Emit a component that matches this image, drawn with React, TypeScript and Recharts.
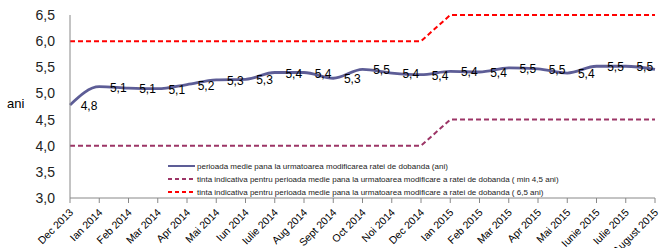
import { Line, LineChart, XAxis, YAxis, LabelList } from "recharts";

const months = [
  "Dec 2013", "Ian 2014", "Feb 2014", "Mar 2014", "Apr 2014", "Mai 2014", "Iun 2014",
  "Iulie 2014", "Aug 2014", "Sept 2014", "Oct 2014", "Noi 2014", "Dec 2014", "Ian 2015",
  "Feb 2015", "Mar 2015", "Apr 2015", "Mai 2015", "Iunie 2015", "Iulie 2015", "August 2015",
];

const perioada = [
  4.78, 5.13, 5.1, 5.09, 5.17, 5.26, 5.27, 5.4, 5.4, 5.29, 5.46, 5.39, 5.36, 5.42,
  5.41, 5.49, 5.47, 5.39, 5.52, 5.52, 5.46,
];

const tintaMin = [
  4, 4, 4, 4, 4, 4, 4, 4, 4, 4, 4, 4, 4, 4.5, 4.5, 4.5, 4.5, 4.5, 4.5, 4.5, 4.5,
];

const tintaMax = [
  6, 6, 6, 6, 6, 6, 6, 6, 6, 6, 6, 6, 6, 6.5, 6.5, 6.5, 6.5, 6.5, 6.5, 6.5, 6.5,
];

const yTicks = [3, 3.5, 4, 4.5, 5, 5.5, 6, 6.5];

const legendItems = [
  { label: "perioada medie pana la urmatoarea modificarea ratei de dobanda (ani)", color: "#5d5d96", dash: "" },
  { label: "tinta indicativa pentru perioada medie pana la urmatoarea modificare a ratei de dobanda ( min 4,5 ani)", color: "#9c3566", dash: "4 3" },
  { label: "tinta indicativa pentru perioada medie pana la urmatoarea modificare a ratei de dobanda  ( 6,5 ani)", color: "#ff0000", dash: "4 3" },
];

const data = months.map((m, i) => ({
  month: m,
  perioada: perioada[i],
  tintaMin: tintaMin[i],
  tintaMax: tintaMax[i],
}));

const fmt = (v: number) => v.toFixed(1).replace(".", ",");

function XTick({ x, y, payload }: any) {
  return (
    <text x={x + 4} y={y + 8} transform={`rotate(-45, ${x + 4}, ${y + 8})`} textAnchor="end" fontSize={10.5} fill="#000">
      {payload.value}
    </text>
  );
}

function ValueLabel({ x, y, value }: any) {
  return (
    <text x={x + 19} y={y + 5} textAnchor="middle" fontSize={12} fill="#000">
      {fmt(value)}
    </text>
  );
}

function LegendBox() {
  return (
    <svg width={480} height={40} style={{ position: "absolute", left: 168, top: 160 }}>
      {legendItems.map((it, i) => (
        <g key={it.label}>
          <line x1={0} x2={27} y1={6 + i * 13} y2={6 + i * 13} stroke={it.color} strokeWidth={2} strokeDasharray={it.dash} />
          <text x={29} y={9 + i * 13} fontSize={8} fill="#222">
            {it.label}
          </text>
        </g>
      ))}
    </svg>
  );
}

export default function App() {
  return (
    <div style={{ position: "relative", width: 659, height: 248, fontFamily: "'Liberation Sans', Arial, sans-serif" }}>
      <style>{"body{margin:0}"}</style>
      <div style={{ position: "absolute", left: 7, top: 96, fontSize: 13 }}>ani</div>
      <LineChart width={659} height={248} data={data} margin={{ top: 15, right: 4, left: 0, bottom: 0 }}>
        <XAxis
          dataKey="month"
          interval={0}
          height={50}
          stroke="#888"
          tickSize={5}
          tick={<XTick />}
        />
        <YAxis
          width={70}
          domain={[3, 6.5]}
          ticks={yTicks}
          interval={0}
          tickFormatter={fmt}
          stroke="#888"
          tickLine={false}
          tick={{ fill: "#222", fontSize: 14 }}
          tickMargin={9}
        />
        <Line dataKey="tintaMin" stroke="#9c3566" strokeWidth={2} strokeDasharray="5 3" dot={false} isAnimationActive={false} />
        <Line dataKey="tintaMax" stroke="#ff0000" strokeWidth={2} strokeDasharray="5 3" dot={false} isAnimationActive={false} />
        <Line type="monotone" dataKey="perioada" stroke="#5d5d96" strokeWidth={2.8} dot={false} isAnimationActive={false}>
          <LabelList dataKey="perioada" content={<ValueLabel />} />
        </Line>
      </LineChart>
      <LegendBox />
    </div>
  );
}
